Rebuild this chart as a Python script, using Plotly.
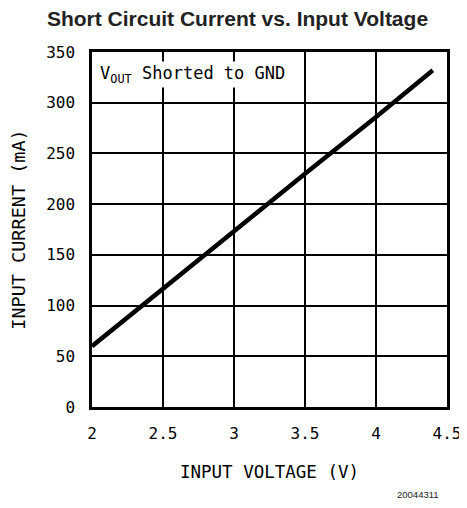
import plotly.graph_objects as go

input_voltage = [2.0, 2.5, 3.0, 3.5, 4.0, 4.4]
input_current = [60, 117, 174, 230, 286, 332]
x_ticks = [2, 2.5, 3, 3.5, 4, 4.5]
x_tick_labels = ["2", "2.5", "3", "3.5", "4", "4.5"]
y_ticks = [0, 50, 100, 150, 200, 250, 300, 350]

font_axis = "DejaVu Sans Mono"

fig = go.Figure()
fig.add_trace(go.Scatter(x=input_voltage, y=input_current, mode="lines",
                         line=dict(color="black", width=4.5), showlegend=False))

W, H = 459, 492
fig.update_layout(
    width=W, height=H,
    margin=dict(l=84, r=20, t=44, b=93),
    paper_bgcolor="white", plot_bgcolor="white",
    title=dict(text="<b>Short Circuit Current vs. Input Voltage</b>",
               x=229.5 / W, xanchor="center", y=1 - 11 / H, yanchor="middle",
               font=dict(family="Liberation Sans", size=21, color="#222")),
    xaxis=dict(range=[2, 4.5], tickvals=x_ticks, ticktext=x_tick_labels,
               automargin=False, ticklabeloverflow="allow",
               showgrid=True, gridcolor="black", gridwidth=1.5,
               showline=True, linecolor="black", linewidth=2.5, mirror=True,
               ticks="", zeroline=False, ticklabelstandoff=10,
               tickfont=dict(family=font_axis, size=16, color="black"),
               title=dict(text="INPUT VOLTAGE (V)", standoff=24,
                          font=dict(family=font_axis, size=17.5, color="black"))),
    yaxis=dict(range=[0, 350], tickvals=y_ticks,
               automargin=False, ticklabeloverflow="allow",
               showgrid=True, gridcolor="black", gridwidth=1.5,
               showline=True, linecolor="black", linewidth=2.5, mirror=True,
               ticks="", zeroline=False, ticklabelstandoff=11,
               tickfont=dict(family=font_axis, size=16, color="black"),
               title=dict(text="INPUT CURRENT (mA)", standoff=16,
                          font=dict(family=font_axis, size=18.5, color="black"))),
)

fig.add_annotation(xref="paper", yref="paper", x=0.018, y=0.975,
                   xanchor="left", yanchor="top", showarrow=False,
                   text="V<sub>OUT</sub> Shorted to GND", bgcolor="white",
                   font=dict(family=font_axis, size=17, color="black"))
fig.add_annotation(xref="paper", yref="paper", x=(441 - 92) / 355, y=(407 - 494) / 355,
                   xanchor="right", yanchor="middle", showarrow=False,
                   text="20044311",
                   font=dict(family="Liberation Sans", size=9.5, color="#222"))

fig.write_html("out.html")
